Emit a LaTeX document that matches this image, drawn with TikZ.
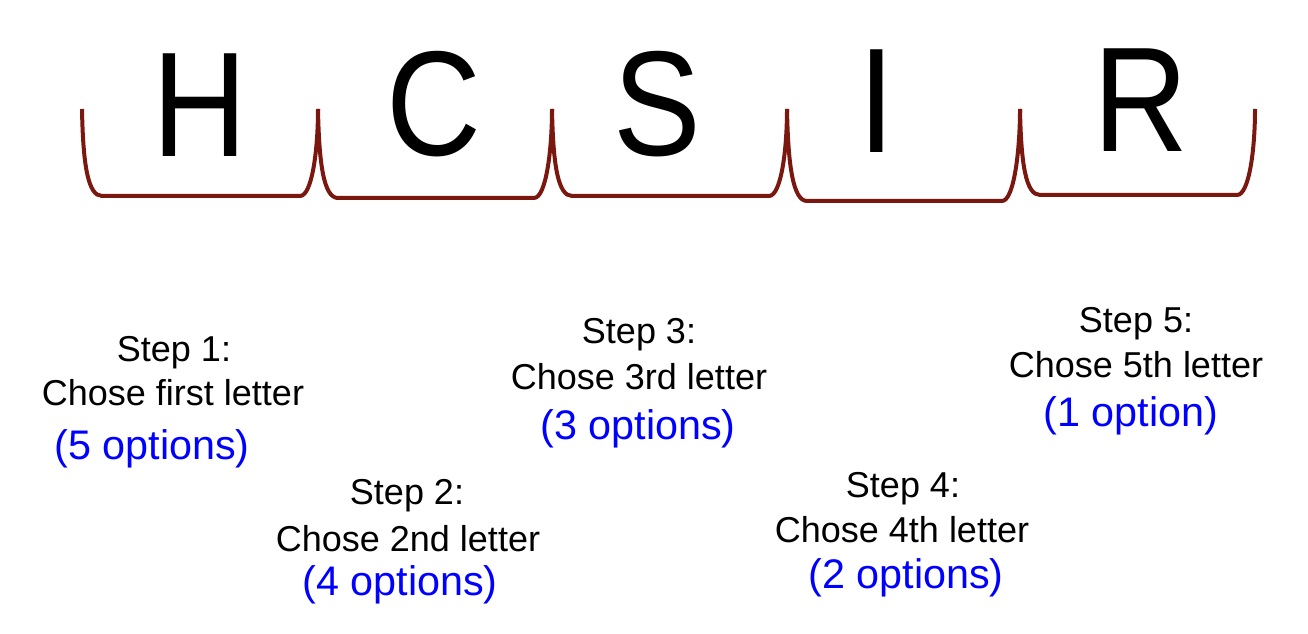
\documentclass[tikz,border=0pt]{standalone}
\usepackage{fontspec}
\setmainfont{Liberation Sans}
\newfontfamily\letterfont[FakeStretch=0.88]{Liberation Sans}
\usepackage{tikz}
\definecolor{bracketred}{RGB}{122,24,16}
\tikzstyle{letter} = [inner sep=0pt, anchor=base, font=\letterfont\fontsize{112}{112}\selectfont]
\tikzstyle{steptext} = [inner sep=0pt, anchor=base, font=\fontsize{27}{32}\selectfont]
\tikzstyle{optext} = [inner sep=0pt, anchor=base, text=blue, font=\fontsize{31}{36}\selectfont]
\tikzstyle{slot} = [line width=3pt, draw=bracketred, line join=round]

\begin{document}
\begin{tikzpicture}[x=0.75pt, y=-0.75pt]
  \useasboundingbox (0,0) rectangle (1308,634);

  % the five letters
  \node (H) [letter] at (200,157) {H};
  \node (C) [letter] at (434,156) {C};
  \node (S) [letter] at (657,156) {S};
  \node (I) [letter] at (877,153) {I};
  \node (R) [letter] at (1141,152) {R};

  % brackets under the letters
  \foreach \l/\r/\b in {82/318/196, 318/552/198, 552/787/196, 787/1020/201, 1020/1255/195}
    \draw [slot] (\l,109) .. controls (\l+1,165) and (\l+6,\b) .. (\l+20,\b)
      -- (\r-18,\b) .. controls (\r-6,\b) and (\r,150) .. (\r,109);

  % steps
  \node (step1) [steptext] at (174,361) {Step 1:};
  \node (pick1) [steptext] at (173,405) {Chose first letter};
  \node (opt1) [optext] at (152,459) {(5 options)};

  \node (step2) [steptext] at (407,504) {Step 2:};
  \node (pick2) [steptext] at (408,551) {Chose 2nd letter};
  \node (opt2) [optext] at (400,595) {(4 options)};

  \node (step3) [steptext] at (639,343) {Step 3:};
  \node (pick3) [steptext] at (639,389) {Chose 3rd letter};
  \node (opt3) [optext] at (638,439) {(3 options)};

  \node (step4) [steptext] at (903,497) {Step 4:};
  \node (pick4) [steptext] at (902,542) {Chose 4th letter};
  \node (opt4) [optext] at (906,588) {(2 options)};

  \node (step5) [steptext] at (1136,332) {Step 5:};
  \node (pick5) [steptext] at (1136,377) {Chose 5th letter};
  \node (opt5) [optext] at (1131,426) {(1 option)};

\end{tikzpicture}
\end{document}
